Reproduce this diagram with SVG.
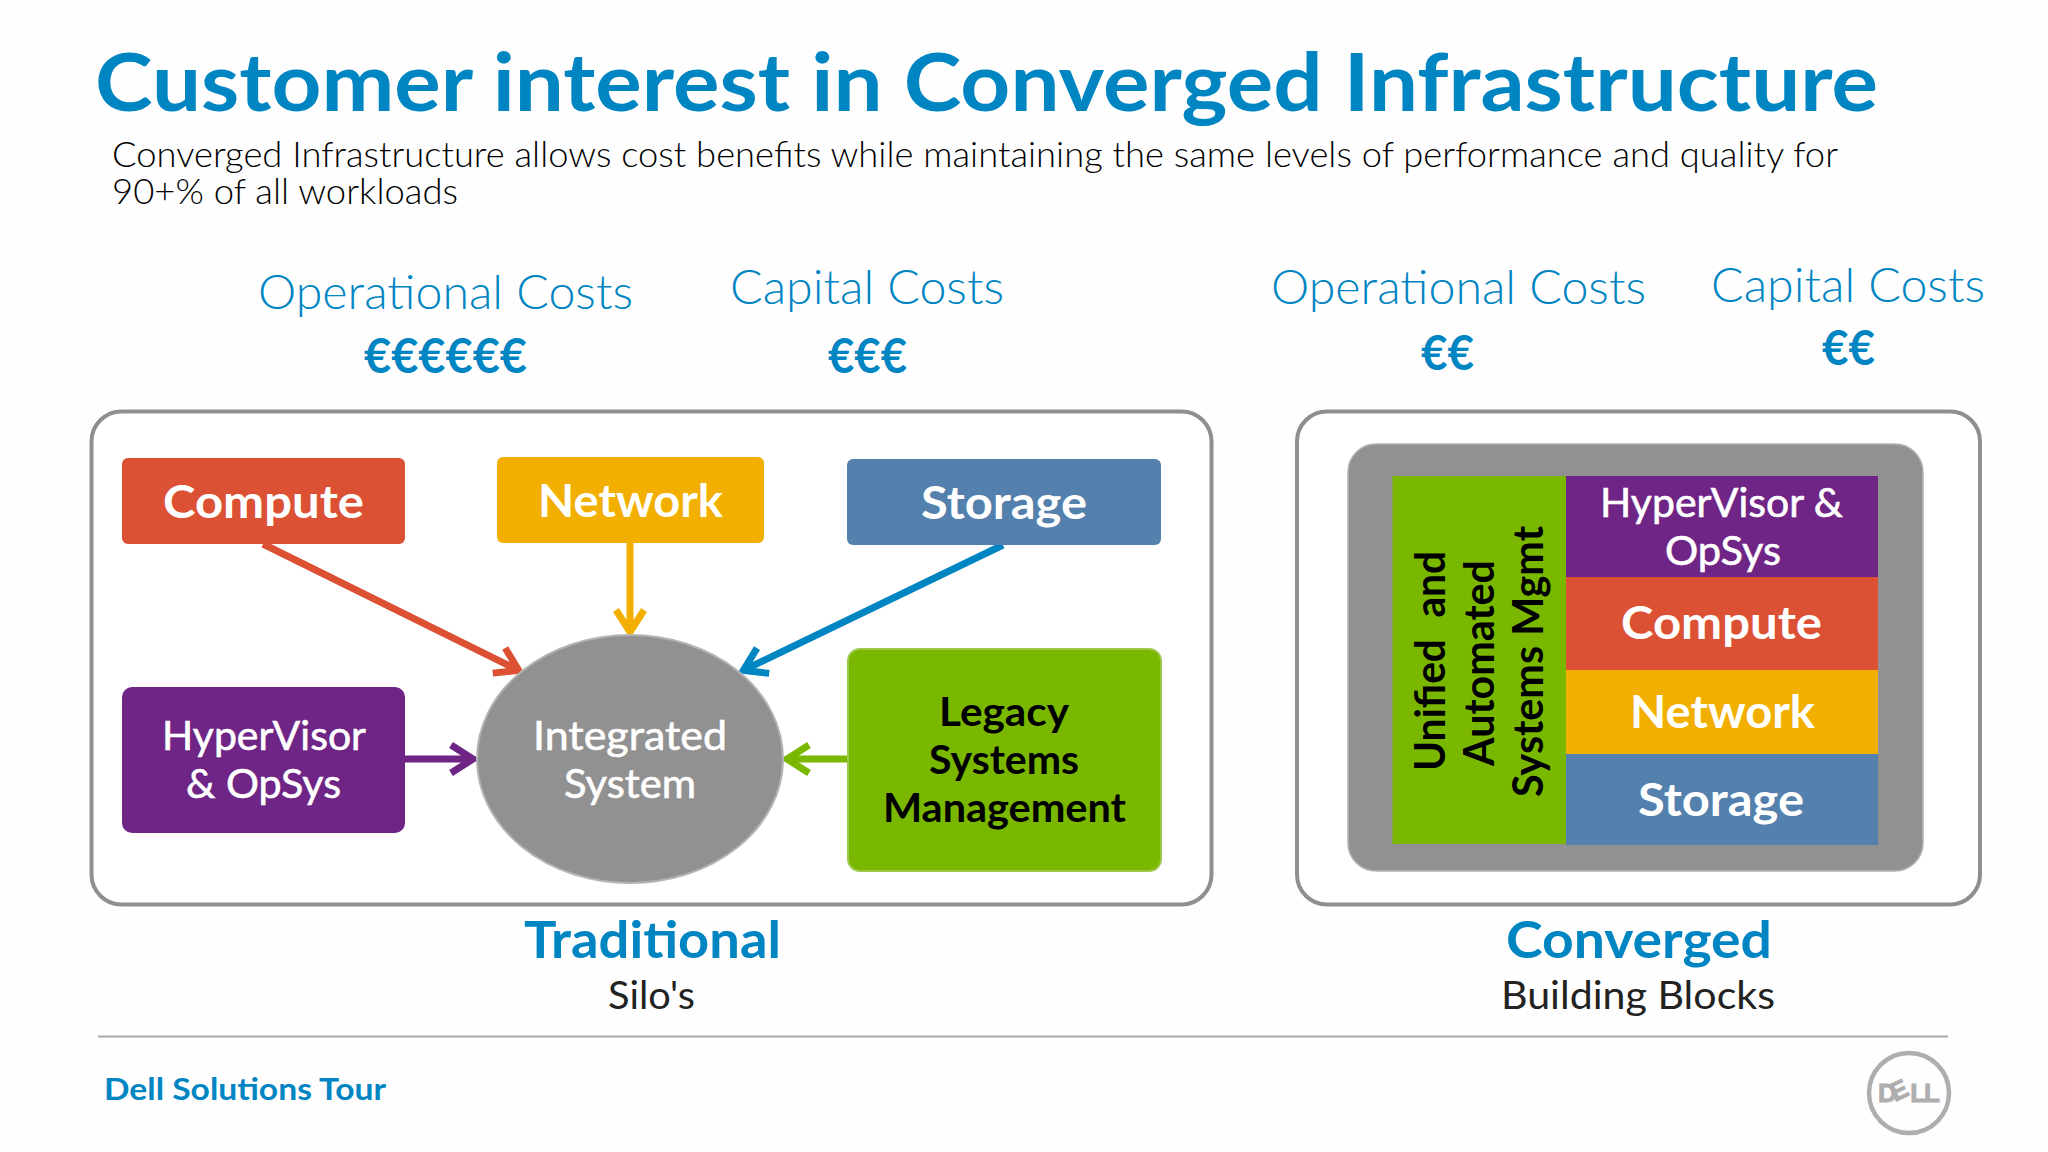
<svg xmlns="http://www.w3.org/2000/svg" width="2048" height="1152" viewBox="0 0 2048 1152">
<defs>
<style>
text{font-family:"Lato","Open Sans","Liberation Sans",sans-serif}
.blue{fill:#0085C3}
.title{font-size:80px;font-weight:700}
.sub{font-size:35px;fill:#000;font-weight:300}
.cost{font-size:47px;font-weight:300}
.euro{font-size:48px;font-weight:700}
.h{font-size:52px;font-weight:700}
.s{font-size:38px;fill:#222;font-weight:400}
.w{fill:#fff;font-size:46px;font-weight:700}
.w2{fill:#fff;font-size:40px;font-weight:400;stroke:#fff;stroke-width:.6px}
.k{fill:#000;font-size:40px;font-weight:700}
.v{fill:#000;font-size:42px;font-weight:700}
.frame{fill:#fff;stroke:#8f8f8f;stroke-width:4}
.c{stroke-width:7;fill:none}
.h1{fill:none;stroke-width:7;stroke-linejoin:miter}
</style>
<marker id="mr" markerUnits="userSpaceOnUse" markerWidth="40" markerHeight="40" refX="-3" refY="0" viewBox="-30 -20 40 40" orient="auto" overflow="visible"><path class="h1" stroke="#DC5034" d="M-22,-14 L0,0 L-22,14"/></marker>
<marker id="my" markerUnits="userSpaceOnUse" markerWidth="40" markerHeight="40" refX="-3" refY="0" viewBox="-30 -20 40 40" orient="auto" overflow="visible"><path class="h1" stroke="#F2AF00" d="M-22,-14 L0,0 L-22,14"/></marker>
<marker id="mb" markerUnits="userSpaceOnUse" markerWidth="40" markerHeight="40" refX="-3" refY="0" viewBox="-30 -20 40 40" orient="auto" overflow="visible"><path class="h1" stroke="#0085C3" d="M-22,-14 L0,0 L-22,14"/></marker>
<marker id="mp" markerUnits="userSpaceOnUse" markerWidth="40" markerHeight="40" refX="-3" refY="0" viewBox="-30 -20 40 40" orient="auto" overflow="visible"><path class="h1" stroke="#6E2585" d="M-22,-14 L0,0 L-22,14"/></marker>
<marker id="mg" markerUnits="userSpaceOnUse" markerWidth="40" markerHeight="40" refX="-3" refY="0" viewBox="-30 -20 40 40" orient="auto" overflow="visible"><path class="h1" stroke="#7AB800" d="M-22,-14 L0,0 L-22,14"/></marker>
</defs>
<rect width="2048" height="1152" fill="#fefefe"/>
<text class="title blue" x="95" y="111" textLength="1783" lengthAdjust="spacingAndGlyphs">Customer interest in Converged Infrastructure</text>
<text class="sub" x="112" y="167" textLength="1726" lengthAdjust="spacingAndGlyphs">Converged Infrastructure allows cost benefits while maintaining the same levels of performance and quality for</text>
<text class="sub" x="112" y="204" textLength="346" lengthAdjust="spacingAndGlyphs">90+% of all workloads</text>
<text class="cost blue" x="258" y="309" textLength="375" lengthAdjust="spacingAndGlyphs">Operational Costs</text>
<text class="cost blue" x="730" y="304" textLength="274" lengthAdjust="spacingAndGlyphs">Capital Costs</text>
<text class="cost blue" x="1271" y="304" textLength="375" lengthAdjust="spacingAndGlyphs">Operational Costs</text>
<text class="cost blue" x="1711" y="302" textLength="274" lengthAdjust="spacingAndGlyphs">Capital Costs</text>
<text class="euro blue" x="364" y="373" textLength="163" lengthAdjust="spacingAndGlyphs">€€€€€€</text>
<text class="euro blue" x="828" y="373" textLength="79" lengthAdjust="spacingAndGlyphs">€€€</text>
<text class="euro blue" x="1421" y="370" textLength="53" lengthAdjust="spacingAndGlyphs">€€</text>
<text class="euro blue" x="1822" y="365" textLength="53" lengthAdjust="spacingAndGlyphs">€€</text>
<rect class="frame" x="91.500" y="411.500" width="1120" height="493" rx="30"/>
<rect class="frame" x="1297" y="411.500" width="683" height="493" rx="30"/>
<g id="connectors">
<line class="c" stroke="#DC5034" x1="263" y1="544" x2="516" y2="669" marker-end="url(#mr)"/>
<line class="c" stroke="#F2AF00" x1="630" y1="543" x2="630" y2="629" marker-end="url(#my)"/>
<line class="c" stroke="#0085C3" x1="1003" y1="545" x2="746" y2="669" marker-end="url(#mb)"/>
<line class="c" stroke="#6E2585" x1="405" y1="759" x2="470" y2="759" marker-end="url(#mp)"/>
<line class="c" stroke="#7AB800" x1="847" y1="759" x2="790" y2="759" marker-end="url(#mg)"/>
</g>
<g id="compute"><rect x="122" y="458" width="283" height="86" rx="6" fill="#DC5034"/><text class="w" x="163" y="518" textLength="201" lengthAdjust="spacingAndGlyphs">Compute</text></g>
<g id="network"><rect x="497" y="457" width="267" height="86" rx="6" fill="#F2AF00"/><text class="w" x="538" y="517" textLength="185" lengthAdjust="spacingAndGlyphs">Network</text></g>
<g id="storage"><rect x="847" y="459" width="314" height="86" rx="6" fill="#5380AC"/><text class="w" x="921" y="519" textLength="166" lengthAdjust="spacingAndGlyphs">Storage</text></g>
<g id="hypervisor"><rect x="122" y="687" width="283" height="146" rx="10" fill="#6E2585"/><text class="w2" x="162" y="750" textLength="204" lengthAdjust="spacingAndGlyphs">HyperVisor</text><text class="w2" x="186" y="798" textLength="155" lengthAdjust="spacingAndGlyphs">&amp; OpSys</text></g>
<g id="integrated"><ellipse cx="630" cy="759" rx="153" ry="124" fill="#929191" stroke="#b4b4b4" stroke-width="2"/><text class="w2" x="533" y="750" textLength="194" lengthAdjust="spacingAndGlyphs">Integrated</text><text class="w2" x="564" y="798" textLength="132" lengthAdjust="spacingAndGlyphs">System</text></g>
<g id="legacy"><rect x="848" y="649" width="313" height="222" rx="12" fill="#7AB800" stroke="#9cc84a" stroke-width="2"/><text class="k" x="939" y="726" textLength="130" lengthAdjust="spacingAndGlyphs">Legacy</text><text class="k" x="929" y="774" textLength="150" lengthAdjust="spacingAndGlyphs">Systems</text><text class="k" x="883" y="822" textLength="243" lengthAdjust="spacingAndGlyphs">Management</text></g>
<g id="converged-stack">
<rect x="1348" y="444" width="575" height="427" rx="28" fill="#929191" stroke="#b4b4b4" stroke-width="1.500"/>
<rect x="1392.500" y="476" width="173.500" height="368" fill="#7AB800"/>
<text class="v" transform="translate(1445 771) rotate(-90)" x="0" y="0" textLength="220" lengthAdjust="spacingAndGlyphs" style="word-spacing:12px">Unified and</text>
<text class="v" transform="translate(1494 766) rotate(-90)" x="0" y="0" textLength="206" lengthAdjust="spacingAndGlyphs">Automated</text>
<text class="v" transform="translate(1543 797) rotate(-90)" x="0" y="0" textLength="271" lengthAdjust="spacingAndGlyphs">Systems Mgmt</text>
<rect x="1566" y="476" width="312" height="101" fill="#6E2585"/>
<rect x="1566" y="577" width="312" height="93" fill="#DC5034"/>
<rect x="1566" y="670" width="312" height="84" fill="#F2AF00"/>
<rect x="1566" y="754" width="312" height="91" fill="#5380AC"/>
<text class="w2" x="1600" y="517" textLength="243" lengthAdjust="spacingAndGlyphs">HyperVisor &amp;</text>
<text class="w2" x="1665" y="565" textLength="116" lengthAdjust="spacingAndGlyphs">OpSys</text>
<text class="w" x="1621" y="639" textLength="201" lengthAdjust="spacingAndGlyphs">Compute</text>
<text class="w" x="1630" y="728" textLength="185" lengthAdjust="spacingAndGlyphs">Network</text>
<text class="w" x="1638" y="816" textLength="166" lengthAdjust="spacingAndGlyphs">Storage</text>
</g>
<text class="h blue" x="524" y="958" textLength="257" lengthAdjust="spacingAndGlyphs">Traditional</text>
<text class="s" x="608" y="1009" textLength="87" lengthAdjust="spacingAndGlyphs">Silo's</text>
<text class="h blue" x="1506" y="958" textLength="266" lengthAdjust="spacingAndGlyphs">Converged</text>
<text class="s" x="1501" y="1009" textLength="274" lengthAdjust="spacingAndGlyphs">Building Blocks</text>
<line x1="98" y1="1036.500" x2="1948" y2="1036.500" stroke="#a8a8a8" stroke-width="2"/>
<text class="blue" x="104" y="1100" font-size="31" font-weight="700" textLength="282" lengthAdjust="spacingAndGlyphs">Dell Solutions Tour</text>
<g id="dell-logo"><circle cx="1909" cy="1093" r="40" fill="none" stroke="#aeaeae" stroke-width="4.500"/><text x="1878" y="1102" fill="#aeaeae" stroke="#aeaeae" stroke-width="1" rotate="0 -25 0 0" style="font-family:'Liberation Sans',sans-serif;font-size:26px;font-weight:700;letter-spacing:-2px">DELL</text></g>
</svg>
